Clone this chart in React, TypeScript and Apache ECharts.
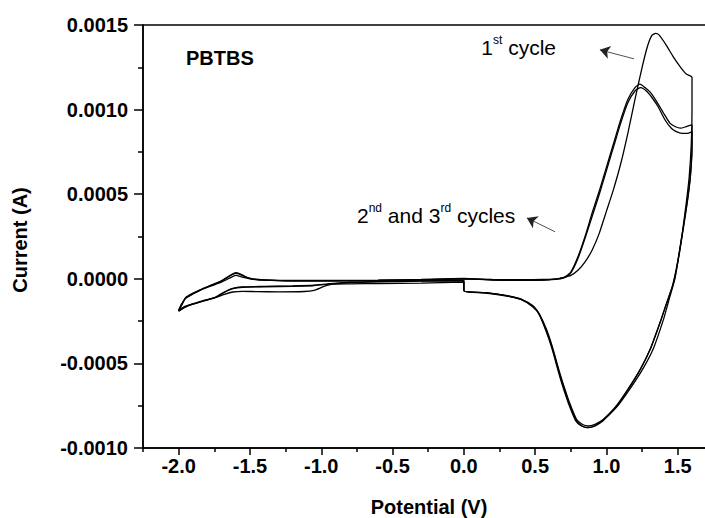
import React, { useEffect, useRef } from "react";
import * as echarts from "echarts";

// Cyclic voltammetry of PBTBS: three cycles, potential (V) vs current (A).
// Each cycle: 0 V -> +1.6 V -> 0 V, then 0 V -> -2.0 V -> 0 V.
const cycle1: [number, number][] = [
  [0.0, 0.0], [0.2, -0.000004], [0.4, -0.000005], [0.55, -0.000004], [0.65, 0.0],
  [0.7, 0.000008], [0.75, 0.00002], [0.8, 0.00005], [0.85, 0.0001], [0.9, 0.00017],
  [0.95, 0.00027], [1.0, 0.0004], [1.05, 0.00053], [1.1, 0.00068], [1.15, 0.00086],
  [1.2, 0.00106], [1.25, 0.00125], [1.29, 0.00138], [1.32, 0.00144],
  [1.345, 0.00145], [1.37, 0.00144], [1.42, 0.00138], [1.47, 0.00131], [1.52, 0.00125],
  [1.56, 0.00121], [1.6, 0.00119],
  [1.6, 0.001], [1.595, 0.0008], [1.58, 0.0006], [1.56, 0.00045], [1.535, 0.00029],
  [1.5, 0.0001], [1.48, 0.0], [1.44, -0.00012], [1.4, -0.00024], [1.33, -0.00041],
  [1.25, -0.00054], [1.165, -0.00065], [1.07, -0.00076], [0.98, -0.00083], [0.92, -0.00086],
  [0.87, -0.00087], [0.83, -0.00086], [0.79, -0.00083], [0.74, -0.00073], [0.7, -0.00063],
  [0.674, -0.00056], [0.62, -0.0004], [0.58, -0.0003], [0.53, -0.00021], [0.485, -0.00016],
  [0.4, -0.00012], [0.3, -0.0001], [0.15, -0.000082], [0.0, -0.00007],
  [0.0, -0.00002], [-0.3, -0.000025], [-0.6, -0.000028], [-0.8, -0.00003], [-0.92, -0.000032],
  [-0.98, -0.000045], [-1.05, -0.000068], [-1.12, -0.000075], [-1.3, -0.000077],
  [-1.45, -0.000076], [-1.55, -0.000074], [-1.62, -0.000078], [-1.68, -0.000092],
  [-1.74, -0.00011], [-1.82, -0.000128], [-1.9, -0.000148], [-1.96, -0.000165], [-2.0, -0.000185],
  [-1.98, -0.00015], [-1.95, -0.000115], [-1.9, -0.00009], [-1.85, -0.000068], [-1.78, -0.000045],
  [-1.7, -0.00002], [-1.64, 0.000005], [-1.6, 0.00002], [-1.56, 0.000012], [-1.5, 0.0],
  [-1.4, -0.000008], [-1.2, -0.000012], [-0.9, -0.000012], [-0.6, -0.00001], [-0.3, -0.000006],
  [0.0, 0.0],
];

const cycle2: [number, number][] = [
  [0.0, 0.0], [0.2, -0.000006], [0.4, -0.000008], [0.55, -0.000007], [0.64, -0.000002],
  [0.7, 0.000006], [0.75, 0.00004], [0.8, 0.00013], [0.85, 0.00025], [0.9, 0.00039],
  [0.95, 0.00052], [1.0, 0.00066], [1.05, 0.0008], [1.1, 0.00094], [1.15, 0.00106],
  [1.2, 0.00113], [1.235, 0.00115], [1.27, 0.00113],
  [1.31, 0.0011], [1.35, 0.00105], [1.4, 0.00098], [1.445, 0.00092], [1.48, 0.0009],
  [1.52, 0.00089], [1.56, 0.0009], [1.6, 0.00091],
  [1.6, 0.0008], [1.59, 0.00062], [1.57, 0.00047], [1.545, 0.00033], [1.515, 0.00017],
  [1.49, 0.00005], [1.465, -0.00004], [1.42, -0.00015], [1.38, -0.00025], [1.31, -0.00041],
  [1.24, -0.00053], [1.16, -0.00064], [1.07, -0.00075], [0.98, -0.00083], [0.92, -0.00087],
  [0.87, -0.00088], [0.83, -0.00087], [0.79, -0.00084], [0.74, -0.00074], [0.7, -0.00064],
  [0.674, -0.00057], [0.62, -0.00041], [0.58, -0.00031], [0.53, -0.00021], [0.485, -0.000165],
  [0.4, -0.00012], [0.3, -0.0001], [0.15, -0.000082], [0.0, -0.00007],
  [0.0, -0.00001], [-0.3, -0.000012], [-0.6, -0.000016], [-0.8, -0.00002], [-0.95, -0.00003],
  [-1.05, -0.000038], [-1.2, -0.000042], [-1.4, -0.000045], [-1.55, -0.000048],
  [-1.62, -0.000056], [-1.68, -0.000078], [-1.74, -0.000108], [-1.82, -0.000128],
  [-1.9, -0.000148], [-1.96, -0.000168], [-2.0, -0.00019],
  [-1.98, -0.000155], [-1.95, -0.00011], [-1.9, -0.000085], [-1.85, -0.000065], [-1.78, -0.00004],
  [-1.7, -0.000012], [-1.65, 0.000015], [-1.6, 0.000037], [-1.57, 0.00003], [-1.53, 0.000012],
  [-1.48, 0.0], [-1.4, -0.000006], [-1.2, -0.00001], [-0.9, -0.00001], [-0.6, -0.000008],
  [-0.3, -0.000004], [0.0, 0.000002],
];

const cycle3: [number, number][] = [
  [0.0, 0.000002], [0.2, -0.000007], [0.4, -0.000009], [0.55, -0.000008], [0.64, -0.000003],
  [0.7, 0.000005], [0.75, 0.000035], [0.8, 0.00012], [0.85, 0.00024], [0.9, 0.00037],
  [0.95, 0.0005], [1.0, 0.00064], [1.05, 0.00078], [1.1, 0.00092], [1.15, 0.00104],
  [1.2, 0.00111], [1.24, 0.00113], [1.28, 0.00111],
  [1.32, 0.00107], [1.36, 0.00102], [1.41, 0.00094], [1.455, 0.00089], [1.49, 0.00087],
  [1.53, 0.00086], [1.57, 0.00086], [1.6, 0.00087],
  [1.6, 0.00078], [1.588, 0.0006], [1.567, 0.00046], [1.54, 0.00031], [1.51, 0.00015],
  [1.485, 0.00004], [1.46, -0.00005], [1.415, -0.00016], [1.375, -0.00026], [1.305, -0.00042],
  [1.235, -0.00054], [1.155, -0.00065], [1.065, -0.00076], [0.975, -0.00084], [0.915, -0.00087],
  [0.865, -0.00088], [0.825, -0.00087], [0.785, -0.00084], [0.735, -0.00074], [0.695, -0.00064],
  [0.67, -0.00057], [0.617, -0.00041], [0.577, -0.00031], [0.528, -0.00021], [0.483, -0.000165],
  [0.4, -0.000122], [0.3, -0.000102], [0.15, -0.000084], [0.0, -0.000072],
  [0.0, -0.000012], [-0.3, -0.000014], [-0.6, -0.000018], [-0.8, -0.000022], [-0.95, -0.000032],
  [-1.05, -0.00004], [-1.2, -0.000044], [-1.4, -0.000047], [-1.55, -0.00005],
  [-1.62, -0.000058], [-1.68, -0.00008], [-1.74, -0.00011], [-1.82, -0.00013],
  [-1.9, -0.00015], [-1.96, -0.00017], [-2.0, -0.000192],
  [-1.98, -0.000158], [-1.95, -0.000113], [-1.9, -0.000088], [-1.85, -0.000067], [-1.78, -0.000042],
  [-1.7, -0.000014], [-1.65, 0.000012], [-1.6, 0.000032], [-1.57, 0.000026], [-1.53, 0.00001],
  [-1.48, -0.000002], [-1.4, -0.000008], [-1.2, -0.000012], [-0.9, -0.000012], [-0.6, -0.00001],
  [-0.3, -0.000006], [0.0, 0.0],
];

const xLabelTicks = [-2.0, -1.5, -1.0, -0.5, 0.0, 0.5, 1.0, 1.5];
const xMinorTicks = [-2.25, -1.75, -1.25, -0.75, -0.25, 0.25, 0.75, 1.25];

// Annotation arrows in data coordinates: [from, to]
const arrowFirstCycle: [number, number][] = [[1.193, 0.0013], [0.954, 0.001353]];
const arrowLaterCycles: [number, number][] = [[0.639, 0.000278], [0.442, 0.00036]];

const FONT = "'Liberation Sans', Arial, Helvetica, sans-serif";
const INK = "#000";

export default function App() {
  const ref = useRef<HTMLDivElement>(null);

  useEffect(() => {
    document.body.style.margin = "0";
    if (!ref.current) return;
    const chart = echarts.init(ref.current, undefined, { renderer: "svg" });

    const lineSeries = (name: string, data: [number, number][], extra: object = {}) => ({
      name,
      type: "line",
      data,
      xAxisIndex: 0,
      yAxisIndex: 0,
      showSymbol: false,
      symbol: "none",
      smooth: 0.2,
      silent: true,
      lineStyle: { color: INK, width: 1.3 },
      ...extra,
    });

    const sup = { fontSize: 12, lineHeight: 13, verticalAlign: "top", fontFamily: FONT, fill: INK };
    const norm = { fontSize: 21, lineHeight: 24, verticalAlign: "bottom", fontFamily: FONT, fill: INK };

    chart.setOption({
      animation: false,
      backgroundColor: "#fff",
      grid: {
        left: 143,
        top: 25,
        right: 6.6,
        bottom: 70,
        show: true,
        borderColor: INK,
        borderWidth: 1.5,
        backgroundColor: "transparent",
      },
      xAxis: [
        {
          type: "value",
          min: -2.25,
          max: 1.75,
          position: "bottom",
          axisLine: { onZero: false, lineStyle: { color: INK, width: 1.5 } },
          axisTick: { customValues: xLabelTicks, length: 7, lineStyle: { color: INK, width: 1.5 } },
          axisLabel: {
            customValues: xLabelTicks,
            formatter: (v: number) => v.toFixed(1),
            color: INK,
            fontFamily: FONT,
            fontWeight: "bold",
            fontSize: 20,
            margin: 8,
          },
          splitLine: { show: false },
        },
        {
          type: "value",
          min: -2.25,
          max: 1.75,
          position: "bottom",
          axisLine: { show: false, onZero: false },
          axisTick: { customValues: xMinorTicks, length: 4, lineStyle: { color: INK, width: 1.5 } },
          axisLabel: { show: false },
          splitLine: { show: false },
        },
      ],
      yAxis: {
        type: "value",
        min: -0.001,
        max: 0.0015,
        interval: 0.0005,
        axisLine: { show: true, onZero: false, lineStyle: { color: INK, width: 1.5 } },
        axisTick: { show: true, length: 9, lineStyle: { color: INK, width: 1.5 } },
        minorTick: { show: true, splitNumber: 2, length: 5, lineStyle: { color: INK, width: 1.5 } },
        axisLabel: {
          formatter: (v: number) => v.toFixed(4),
          color: INK,
          fontFamily: FONT,
          fontWeight: "bold",
          fontSize: 20,
          margin: 15,
        },
        splitLine: { show: false },
      },
      graphic: [
        {
          type: "text",
          x: 186,
          y: 58,
          style: { text: "PBTBS", font: `bold 20px ${FONT}`, fill: INK, textVerticalAlign: "middle" },
        },
        {
          type: "text",
          x: 556,
          y: 46,
          style: {
            text: "{n|1}{s|st}{n| cycle}",
            rich: { n: norm, s: sup },
            textAlign: "right",
            textVerticalAlign: "middle",
          },
        },
        {
          type: "text",
          x: 357,
          y: 214,
          style: {
            text: "{n|2}{s|nd}{n| and 3}{s|rd}{n| cycles}",
            rich: { n: norm, s: sup },
            textAlign: "left",
            textVerticalAlign: "middle",
          },
        },
        {
          type: "text",
          x: 429,
          y: 507,
          style: {
            text: "Potential (V)",
            font: `bold 20px ${FONT}`,
            fill: INK,
            textAlign: "center",
            textVerticalAlign: "middle",
          },
        },
        {
          type: "text",
          x: 20,
          y: 240,
          rotation: Math.PI / 2,
          style: {
            text: "Current (A)",
            font: `bold 20px ${FONT}`,
            fill: INK,
            textAlign: "center",
            textVerticalAlign: "middle",
          },
        },
      ],
      series: [
        lineSeries("1st cycle", cycle1, {
          markLine: {
            silent: true,
            symbol: ["none", "arrow"],
            symbolSize: 10,
            label: { show: false },
            lineStyle: { color: "#222", width: 0.8, type: "solid" },
            emphasis: { disabled: true },
            data: [
              [{ coord: arrowFirstCycle[0] }, { coord: arrowFirstCycle[1] }],
              [{ coord: arrowLaterCycles[0] }, { coord: arrowLaterCycles[1] }],
            ],
          },
        }),
        lineSeries("2nd cycle", cycle2),
        lineSeries("3rd cycle", cycle3),
      ],
    });

    return () => chart.dispose();
  }, []);

  return (
    <div style={{ width: 705, height: 518, overflow: "hidden", position: "relative", background: "#fff" }}>
      <div ref={ref} style={{ width: 720, height: 518 }} />
    </div>
  );
}
